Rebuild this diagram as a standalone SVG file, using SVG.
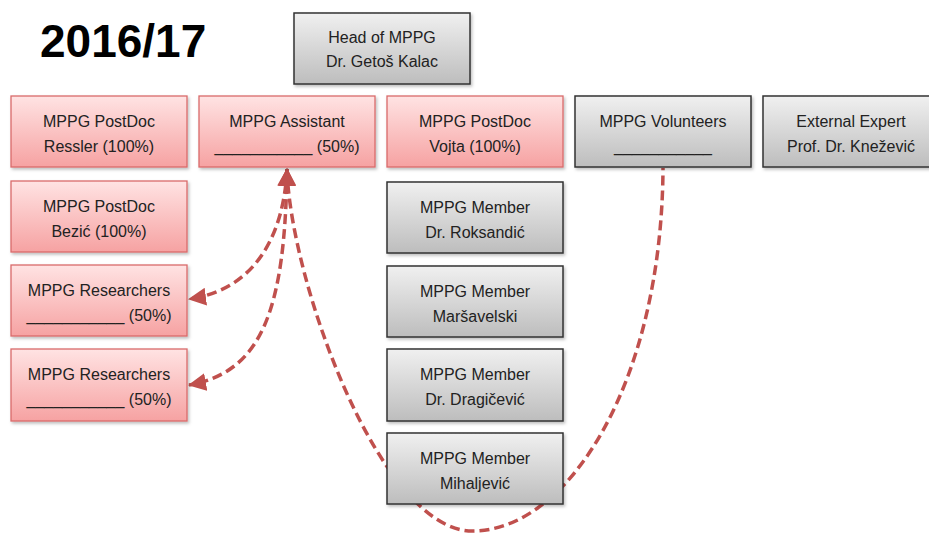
<svg xmlns="http://www.w3.org/2000/svg" width="929" height="533" viewBox="0 0 929 533">
<defs>
<linearGradient id="gPink" x1="0" y1="0" x2="0" y2="1">
<stop offset="0" stop-color="#FFE3E3"/>
<stop offset="1" stop-color="#F6A2A2"/>
</linearGradient>
<linearGradient id="gGray" x1="0" y1="0" x2="0" y2="1">
<stop offset="0" stop-color="#F0F0F0"/>
<stop offset="1" stop-color="#BDBDBD"/>
</linearGradient>
<filter id="sh" x="-10%" y="-10%" width="130%" height="140%">
<feDropShadow dx="1.5" dy="2" stdDeviation="1.5" flood-color="#000" flood-opacity="0.25"/>
</filter>
<marker id="arr" viewBox="0 0 18 18" refX="17" refY="9" markerWidth="18" markerHeight="18" markerUnits="userSpaceOnUse" orient="auto-start-reverse">
<path d="M0,0 L18,9 L0,18 z" fill="#C0504D"/>
</marker>
</defs>
<style>
.pink rect{fill:url(#gPink);stroke:#D96A6A;stroke-width:1.3;filter:url(#sh)}
.gray rect{fill:url(#gGray);stroke:#333;stroke-width:1.5;filter:url(#sh)}
text{font-family:"Liberation Sans",Arial,sans-serif;font-size:16px;fill:#222;text-anchor:middle}
.title{font-size:46px;font-weight:bold;fill:#000;text-anchor:start}
.conn path{fill:none;stroke:#C0504D;stroke-width:3.5;stroke-dasharray:10 5}
</style>
<text class="title" x="40" y="57">2016/17</text>
<g class="conn" id="connectors">
<path d="M287,169 C284,235 255,290 189,299" marker-start="url(#arr)" marker-end="url(#arr)"/>
<path d="M287,169 C285,310 262,372 189,385" marker-start="url(#arr)" marker-end="url(#arr)"/>
<path d="M287,169 C290,280 380,532 473,531 C570,530 662,380 663,168" marker-start="url(#arr)"/>
</g>
<g id="head" class="gray"><rect x="294" y="13" width="176" height="71"/><text x="382" y="43">Head of MPPG</text><text x="382" y="67">Dr. Getoš Kalac</text></g>
<g id="ressler" class="pink"><rect x="11" y="96" width="176" height="71"/><text x="99" y="127">MPPG PostDoc</text><text x="99" y="152">Ressler (100%)</text></g>
<g id="assistant" class="pink"><rect x="199" y="96" width="176" height="71"/><text x="287" y="127">MPPG Assistant</text><text x="287" y="152">___________ (50%)</text></g>
<g id="vojta" class="pink"><rect x="387" y="96" width="176" height="71"/><text x="475" y="127">MPPG PostDoc</text><text x="475" y="152">Vojta (100%)</text></g>
<g id="volunteers" class="gray"><rect x="575" y="96" width="176" height="71"/><text x="663" y="127">MPPG Volunteers</text><text x="663" y="152">___________</text></g>
<g id="external" class="gray"><rect x="763" y="96" width="176" height="71"/><text x="851" y="127">External Expert</text><text x="851" y="152">Prof. Dr. Knežević</text></g>
<g id="bezic" class="pink"><rect x="11" y="181" width="176" height="71"/><text x="99" y="212">MPPG PostDoc</text><text x="99" y="237">Bezić (100%)</text></g>
<g id="researchers1" class="pink"><rect x="11" y="265" width="176" height="71"/><text x="99" y="296">MPPG Researchers</text><text x="99" y="321">___________ (50%)</text></g>
<g id="researchers2" class="pink"><rect x="11" y="349" width="176" height="72"/><text x="99" y="380">MPPG Researchers</text><text x="99" y="405">___________ (50%)</text></g>
<g id="roksandic" class="gray"><rect x="387" y="182" width="176" height="71"/><text x="475" y="213">MPPG Member</text><text x="475" y="238">Dr. Roksandić</text></g>
<g id="marsavelski" class="gray"><rect x="387" y="266" width="176" height="71"/><text x="475" y="297">MPPG Member</text><text x="475" y="322">Maršavelski</text></g>
<g id="dragicevic" class="gray"><rect x="387" y="349" width="176" height="72"/><text x="475" y="380">MPPG Member</text><text x="475" y="405">Dr. Dragičević</text></g>
<g id="mihaljevic" class="gray"><rect x="387" y="433" width="176" height="71"/><text x="475" y="464">MPPG Member</text><text x="475" y="489">Mihaljević</text></g>
</svg>
